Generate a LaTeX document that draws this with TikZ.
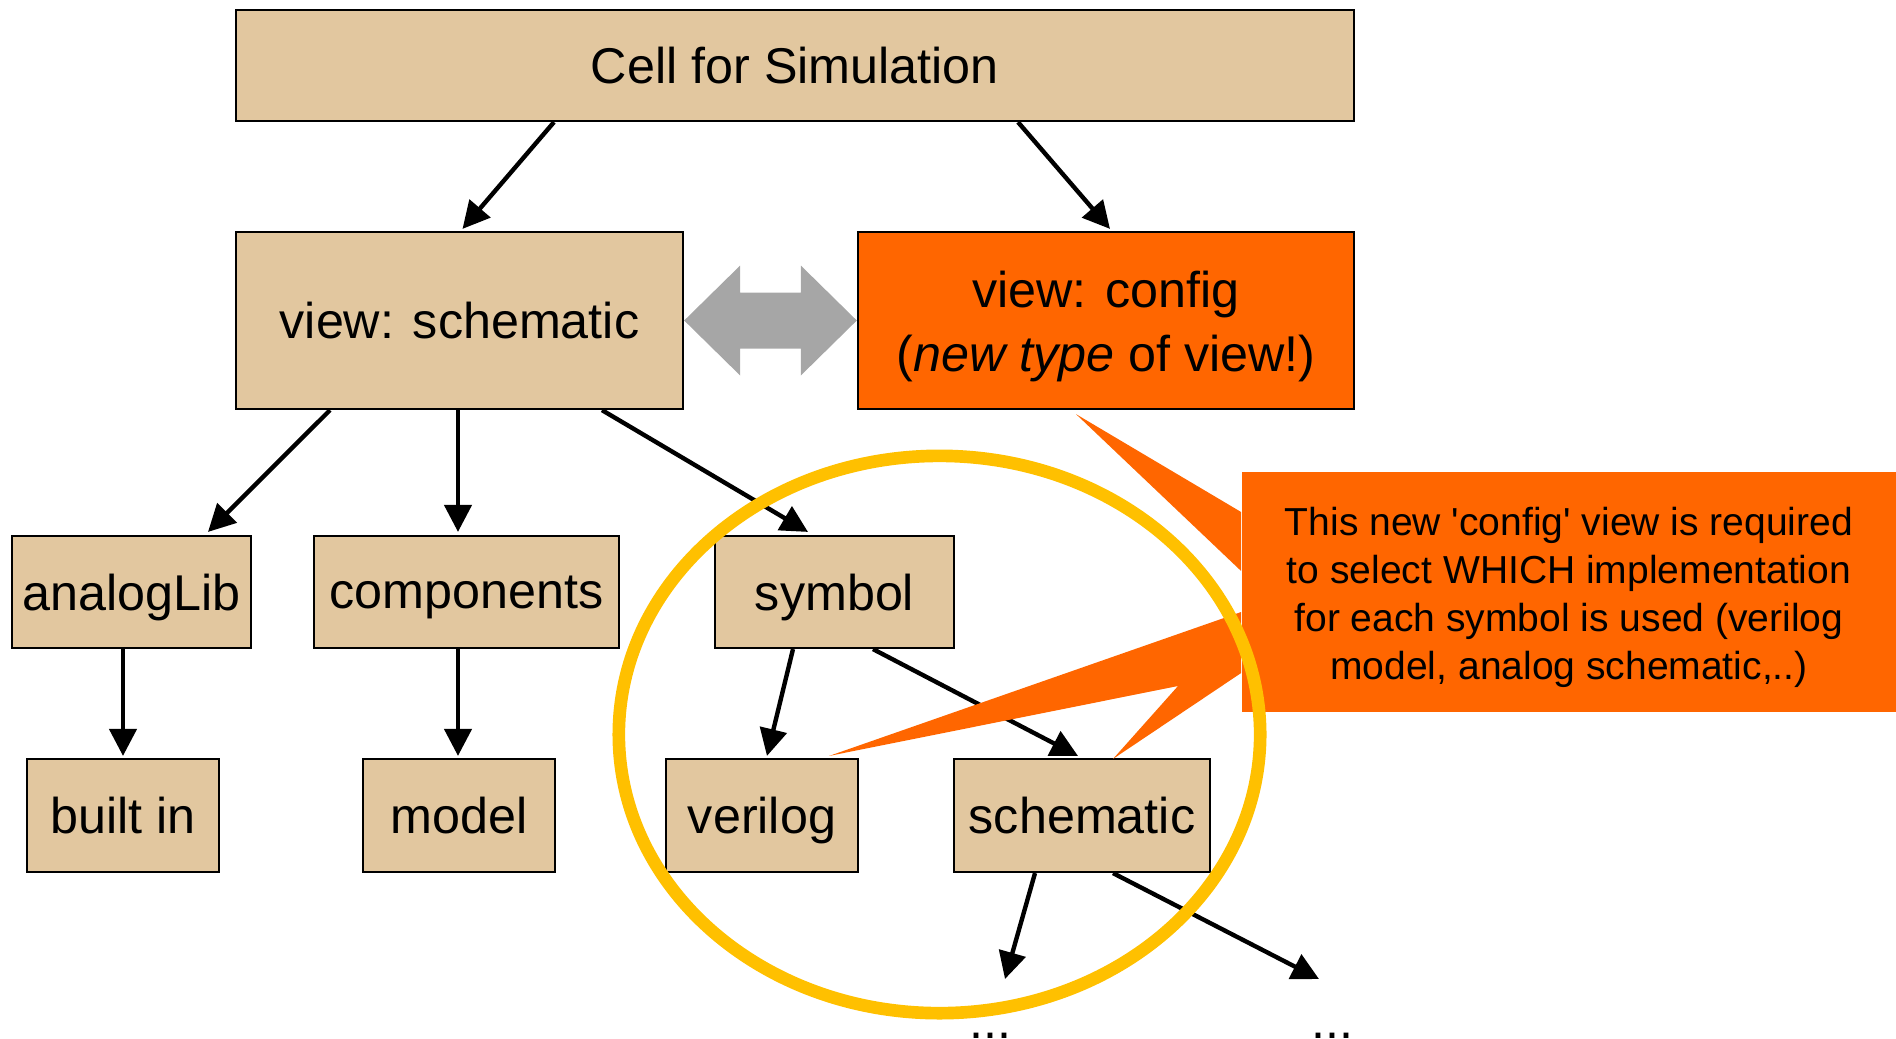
\documentclass[tikz,border=0pt]{standalone}
\usepackage{fontspec}
\setmainfont{Liberation Sans}
\usetikzlibrary{arrows.meta,calc}
\definecolor{celltan}{RGB}{226,199,159}
\definecolor{hot}{RGB}{255,102,0}
\definecolor{ring}{RGB}{255,192,0}
\definecolor{dblgray}{RGB}{166,166,166}
\begin{document}
\begin{tikzpicture}[
 x=0.01cm,y=-0.01cm,
 box/.style={draw,line width=0.6pt,fill=celltan,inner sep=0pt,align=center,font=\fontsize{14.3}{18.2}\selectfont},
 cfg/.style={box,fill=hot},
 low/.style={box,minimum height=1.12cm,text depth=0pt},
 note/.style={fill=hot,inner sep=0pt,align=center,minimum width=6.54cm,minimum height=2.4cm,font=\fontsize{11.1}{13.65}\selectfont},
 dots/.style={inner sep=0pt,anchor=base,font=\fontsize{14.3}{17}\selectfont},
 arrow/.style={-{Triangle[length=0.27cm,width=0.27cm]},line width=1.25pt},
 wedge/.style={fill=hot}
]
\useasboundingbox (0,0) rectangle (1896,1038);
\node[box,minimum width=11.18cm,minimum height=1.11cm] (cell) at (795,65.5) {Cell for Simulation};
\node[box,minimum width=4.47cm,minimum height=1.77cm] (vsch) at (459.5,320.5) {view: schematic};
\node[cfg,minimum width=4.96cm,minimum height=1.77cm] (vcfg) at (1106,320.5) {\rule{0pt}{14pt}view: config\\(\textit{new type} of view!)};
\node[low,minimum width=2.39cm] (alib) at (131.5,592) {analogLib};
\node[low,minimum width=3.05cm] (comp) at (466.5,592) {components};
\node[low,minimum width=2.39cm] (sym) at (834.5,592) {symbol};
\node[low,minimum width=1.92cm,minimum height=1.13cm] (built) at (123,815.5) {built in};
\node[low,minimum width=1.92cm,minimum height=1.13cm] (model) at (459,815.5) {model};
\node[low,minimum width=1.92cm,minimum height=1.13cm] (veri) at (762,815.5) {verilog};
\node[low,minimum width=2.56cm,minimum height=1.13cm] (schm) at (1082,815.5) {schematic};
\node[dots] (dots1) at (990,1038) {...};
\node[dots] (dots2) at (1332,1038) {...};
\coordinate (end1) at (1005,979);
\coordinate (end2) at (1319,979);
\fill[dblgray] (vsch.east) -- ++(56,-55) -- ++(0,27) -- ($(vcfg.west)+(-56,-28)$) -- ++(0,-27) -- (vcfg.west)
 -- ++(-56,55) -- ++(0,-27) -- ($(vsch.east)+(56,28)$) -- ++(0,27) -- cycle;
\draw[arrow] ($(cell.south)+(-241,0)$) -- ($(vsch.north)+(3,-2)$);
\draw[arrow] ($(cell.south)+(223,0)$) -- ($(vcfg.north)+(4,-2)$);
\draw[arrow] ($(vsch.south)+(-129.5,0)$) -- ($(alib.north)+(76.5,-3)$);
\draw[arrow] ($(vsch.south)+(-1.5,0)$) -- ($(comp.north)+(-8.5,-3)$);
\draw[arrow] ($(vsch.south)+(142.5,0)$) -- ($(sym.north)+(-26.5,-3)$);
\draw[arrow] ($(alib.south)+(-8.5,0)$) -- ($(built.north)+(0,-2)$);
\draw[arrow] ($(comp.south)+(-8.5,0)$) -- ($(model.north)+(-1,-2)$);
\draw[arrow] ($(sym.south)+(-41.5,0)$) -- ($(veri.north)+(5,-2)$);
\draw[arrow] ($(sym.south)+(38.5,0)$) -- ($(schm.north)+(-4,-2)$);
\draw[arrow] ($(schm.south)+(-47,0)$) -- (end1);
\draw[arrow] ($(schm.south)+(31,0)$) -- (end2);
\node[note] (note) at (1569,592) {\rule{0pt}{11.2pt}This new \textquotesingle config\textquotesingle{} view is required\\to select WHICH implementation\\for each symbol is used (verilog\\model, analog schematic,..)};
\fill[wedge] ($(note.west)+(0,-80)$) -- ($(vcfg.south)+(-30,4)$) -- ($(note.west)+(0,-21)$) -- cycle;
\fill[wedge] ($(note.west)+(0,20)$) -- ($(veri.north east)+(-30,-2)$) -- (1178,686) -- ($(schm.north)+(31,1)$) -- ($(note.west)+(0,81)$) -- cycle;
\draw[ring,line width=3.6pt] (939.5,734.5) ellipse [x radius=3.205cm,y radius=2.785cm];
\end{tikzpicture}
\end{document}
